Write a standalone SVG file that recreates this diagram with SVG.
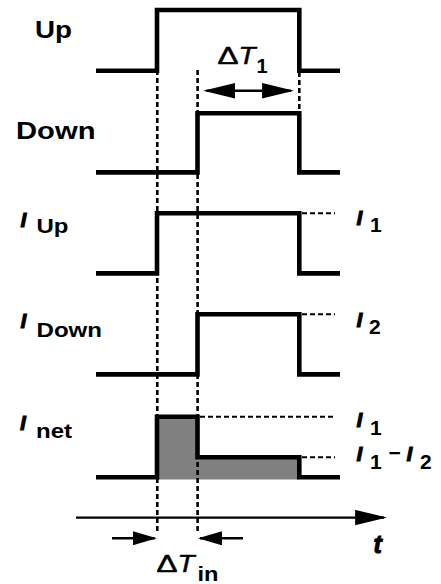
<svg xmlns="http://www.w3.org/2000/svg" width="441" height="584" viewBox="0 0 441 584">
  <style>
    .wave { fill: none; stroke: #000; stroke-width: 4.6; stroke-linejoin: miter; stroke-linecap: butt; }
    .guide { fill: none; stroke: #000; stroke-width: 2.6; stroke-dasharray: 5 3; }
    .hguide { fill: none; stroke: #000; stroke-width: 2; stroke-dasharray: 5 3; }
    .shaft { fill: none; stroke: #000; stroke-width: 2.4; }
    .lbl { font-family: "Liberation Sans", Arial, sans-serif; font-weight: bold; fill: #000; }
    .it { font-family: "Liberation Sans", Arial, sans-serif; font-weight: bold; font-style: italic; fill: #000; stroke: #000; stroke-width: 1; }
    .sym { font-family: "Liberation Sans", Arial, sans-serif; font-weight: normal; fill: #000; stroke: #000; stroke-width: 0.5; }
    .shade { fill: #808080; stroke: none; }
  </style>
  <defs>
    <marker id="head" markerUnits="userSpaceOnUse" markerWidth="32" markerHeight="16" viewBox="0 0 31 15" refX="28" refY="7.5" orient="auto-start-reverse">
      <path d="M0,0 L31,7.5 L0,15 Z" fill="#000"/>
    </marker>
    <marker id="headSmall" markerUnits="userSpaceOnUse" markerWidth="24" markerHeight="14" viewBox="0 0 23 13.4" refX="21" refY="6.7" orient="auto">
      <path d="M0,0 L23,6.7 L0,13.4 Z" fill="#000"/>
    </marker>
  </defs>

  <!-- Up -->
  <g id="up">
    <text class="lbl" x="35" y="37.8" font-size="23" textLength="37" lengthAdjust="spacingAndGlyphs">Up</text>
    <path class="wave" d="M96,70.7 H157 V10 H299.3 V70.7 H340"/>
  </g>

  <!-- Down -->
  <g id="down">
    <text class="lbl" x="16" y="138.6" font-size="23" textLength="79.5" lengthAdjust="spacingAndGlyphs">Down</text>
    <path class="wave" d="M96,172.4 H197.5 V113.3 H299.3 V172.4 H340"/>
  </g>

  <!-- I_Up -->
  <g id="i-up">
    <text class="it" x="20.5" y="227" font-size="21">I</text>
    <text class="lbl" x="36.5" y="233.4" font-size="20" textLength="32" lengthAdjust="spacingAndGlyphs">Up</text>
    <path class="wave" d="M96,273.4 H157 V213.3 H299.3 V273.4 H340"/>
    <text class="it" x="356.5" y="224.5" font-size="21">I</text>
    <text class="lbl" x="370" y="232" font-size="21">1</text>
  </g>

  <!-- I_Down -->
  <g id="i-down">
    <text class="it" x="20.5" y="327.5" font-size="21">I</text>
    <text class="lbl" x="36.5" y="336.8" font-size="20" textLength="65.5" lengthAdjust="spacingAndGlyphs">Down</text>
    <path class="wave" d="M96,374.4 H197.5 V314.2 H299.3 V374.4 H340"/>
    <text class="it" x="356.5" y="327.3" font-size="21">I</text>
    <text class="lbl" x="369" y="334" font-size="21">2</text>
  </g>

  <!-- I_net -->
  <g id="i-net">
    <text class="it" x="20" y="430" font-size="21">I</text>
    <text class="lbl" x="36" y="438.3" font-size="20" textLength="36" lengthAdjust="spacingAndGlyphs">net</text>
    <path class="shade" d="M157,416.7 H197.5 V457.3 H299.3 V479.6 H157 Z"/>
    <path class="wave" d="M96,477.3 H157 V416.7 H197.5 V457.3 H299.3 V477.3 H340"/>
    <text class="it" x="356.5" y="427.3" font-size="21">I</text>
    <text class="lbl" x="370" y="435.3" font-size="21">1</text>
    <text class="it" x="356.5" y="460.6" font-size="21">I</text>
    <text class="lbl" x="370" y="468.6" font-size="21">1</text>
    <text class="lbl" x="388.5" y="460" font-size="21">−</text>
    <text class="it" x="406.5" y="460.6" font-size="21">I</text>
    <text class="lbl" x="420" y="468.6" font-size="21">2</text>
  </g>

  <!-- time axis -->
  <g id="time-axis">
    <line class="shaft" x1="76" y1="517.6" x2="384" y2="517.6" stroke-width="2.8" marker-end="url(#head)"/>
    <text class="it" x="373.5" y="552.5" font-size="25" stroke-width="0.6">t</text>
  </g>

  <!-- interval labels -->
  <g id="delta-t1">
    <text class="sym" x="217.5" y="64.3" font-size="24" textLength="21" lengthAdjust="spacingAndGlyphs">Δ</text>
    <text class="sym" x="238.5" y="64.3" font-size="24" font-style="italic" textLength="17" lengthAdjust="spacingAndGlyphs">T</text>
    <text class="lbl" x="256.5" y="73" font-size="20">1</text>
  </g>
  <g id="delta-tin">
    <text class="sym" x="156.5" y="572.3" font-size="24" textLength="21" lengthAdjust="spacingAndGlyphs">Δ</text>
    <text class="sym" x="177.5" y="572.3" font-size="24" font-style="italic" textLength="17" lengthAdjust="spacingAndGlyphs">T</text>
    <text class="lbl" x="197.5" y="580.5" font-size="20" textLength="21" lengthAdjust="spacingAndGlyphs">in</text>
  </g>

  <!-- guides and arrows -->
  <g id="connectors">
    <line class="guide" x1="157.3" y1="70" x2="157.3" y2="533"/>
    <line class="guide" x1="197.6" y1="70" x2="197.6" y2="533"/>
    <line class="guide" x1="299.3" y1="72" x2="299.3" y2="111"/>
    <line class="hguide" x1="302" y1="213.3" x2="335" y2="213.3"/>
    <line class="hguide" x1="302" y1="314.2" x2="335" y2="314.2"/>
    <line class="hguide" x1="200" y1="416.7" x2="335" y2="416.7"/>
    <line class="hguide" x1="302" y1="457.3" x2="335" y2="457.3"/>
    <line class="shaft" x1="206.3" y1="90.7" x2="291" y2="90.7" stroke-width="2" marker-start="url(#head)" marker-end="url(#head)"/>
    <line class="shaft" x1="112" y1="538.3" x2="154.7" y2="538.3" marker-end="url(#headSmall)"/>
    <line class="shaft" x1="243" y1="538.3" x2="200" y2="538.3" marker-end="url(#headSmall)"/>
  </g>
</svg>
